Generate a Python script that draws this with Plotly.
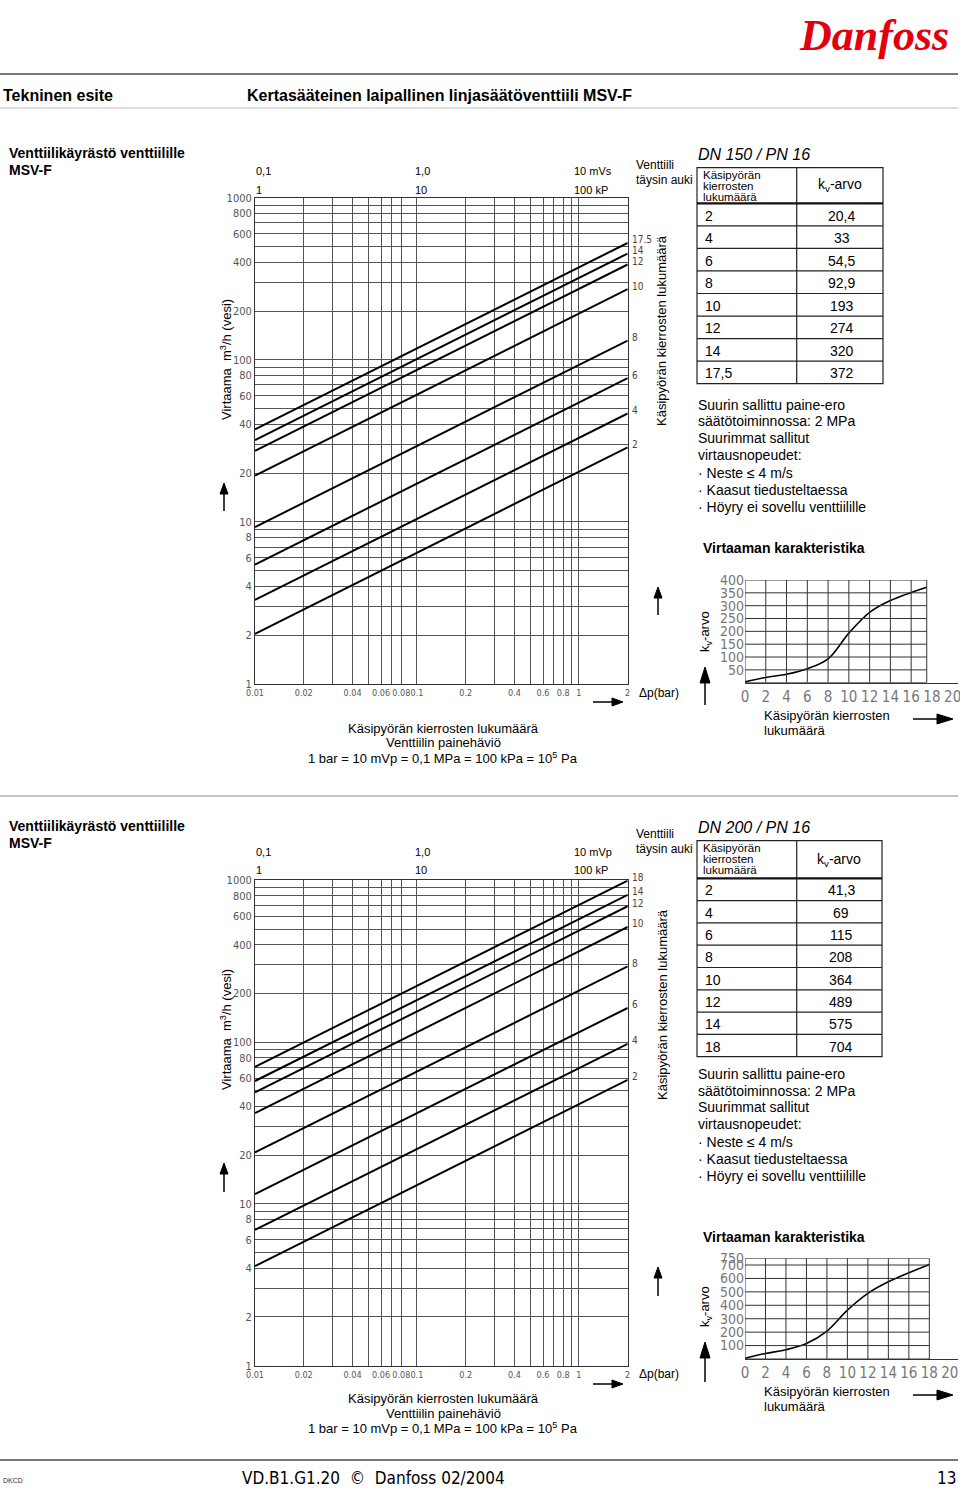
import numpy as np
import plotly.graph_objects as go

W, H = 960, 1488

# ---------------- data ----------------
dn150_settings = [2, 4, 6, 8, 10, 12, 14, 17.5]
dn150_setting_text = ["2", "4", "6", "8", "10", "12", "14", "17,5"]
dn150_chart_text = ["2", "4", "6", "8", "10", "12", "14", "17.5"]
dn150_kv = [20.4, 33, 54.5, 92.9, 193, 274, 320, 372]
dn150_kv_text = ["20,4", "33", "54,5", "92,9", "193", "274", "320", "372"]
dn150_kv_at_zero = 3  # at 0 turns

dn200_settings = [2, 4, 6, 8, 10, 12, 14, 18]
dn200_setting_text = ["2", "4", "6", "8", "10", "12", "14", "18"]
dn200_chart_text = ["2", "4", "6", "8", "10", "12", "14", "18"]
dn200_kv = [41.3, 69, 115, 208, 364, 489, 575, 704]
dn200_kv_text = ["41,3", "69", "115", "208", "364", "489", "575", "704"]
dn200_kv_at_zero = 5

dp_range = [0.01, 2]
dp_grid = [0.01, 0.02, 0.03, 0.04, 0.05, 0.06, 0.07, 0.08, 0.1, 0.2, 0.3, 0.4,
           0.5, 0.6, 0.7, 0.8, 0.9, 1, 2]
dp_labels = {0.01: "0.01", 0.02: "0.02", 0.04: "0.04", 0.06: "0.06", 0.08: "0.08",
             0.1: "0.1", 0.2: "0.2", 0.4: "0.4", 0.6: "0.6", 0.8: "0.8", 1: "1", 2: "2"}
q_grid = [m * d for d in (1, 10, 100) for m in range(1, 10)] + [1000]
q_labels = {1: "1", 2: "2", 4: "4", 6: "6", 8: "8", 10: "10", 20: "20", 40: "40",
            60: "60", 80: "80", 100: "100", 200: "200", 400: "400", 600: "600",
            800: "800", 1000: "1000"}

small1_xticks = list(range(0, 21, 2))
small1_yticks = [50, 100, 150, 200, 250, 300, 350, 400]
small1_ymax = 400
small2_xticks = list(range(0, 21, 2))
small2_yticks = [100, 200, 300, 400, 500, 600, 700, 750]
small2_ymax = 750

notes = ["Suurin sallittu paine-ero", "säätötoiminnossa: 2 MPa", "Suurimmat sallitut",
         "virtausnopeudet:", "· Neste ≤ 4 m/s", "· Kaasut tiedusteltaessa",
         "· Höyry ei sovellu venttiilille"]

# ---------------- helpers ----------------
BODY = "Liberation Sans, Arial, sans-serif"
NARROW = "DejaVu Sans Condensed, Liberation Sans Narrow, Liberation Sans, sans-serif"


def px(x):
    return x / W


def py(y):
    return 1 - y / H


def xdom(a, b):
    return [a / W, b / W]


def ydom(top, bottom):
    return [1 - bottom / H, 1 - top / H]


annotations = []
shapes = []


def ann(x, y, text, size=13, anchor="left", color="black", family=BODY, angle=0, **kw):
    annotations.append(dict(x=px(x), y=py(y), xref="paper", yref="paper", text=text,
                            showarrow=False, xanchor=anchor, yanchor="middle",
                            textangle=angle, borderpad=0,
                            font=dict(size=size, color=color, family=family), **kw))


def hline(y, x0, x1, color="#777", width=1):
    shapes.append(dict(type="line", xref="paper", yref="paper", x0=px(x0), x1=px(x1),
                       y0=py(y), y1=py(y), line=dict(color=color, width=width)))


def vline(x, y0, y1, color="black", width=1):
    shapes.append(dict(type="line", xref="paper", yref="paper", x0=px(x), x1=px(x),
                       y0=py(y0), y1=py(y1), line=dict(color=color, width=width)))


def up_arrow(x, top, bottom, hh=10, hw=4, width=1.5):
    vline(x, top + hh - 1, bottom, width=width)
    path = "M %f %f L %f %f L %f %f Z" % (px(x - hw), py(top + hh), px(x), py(top),
                                         px(x + hw), py(top + hh))
    shapes.append(dict(type="path", xref="paper", yref="paper", path=path,
                       fillcolor="black", line=dict(color="black", width=1)))


def right_arrow(y, left, right, hl=10, hw=4, width=1.5):
    hline(y, left, right - hl + 1, color="black", width=width)
    path = "M %f %f L %f %f L %f %f Z" % (px(right - hl), py(y - hw), px(right), py(y),
                                         px(right - hl), py(y + hw))
    shapes.append(dict(type="path", xref="paper", yref="paper", path=path,
                       fillcolor="black", line=dict(color="black", width=1)))


fig = go.Figure()

# ---------------- main log-log charts ----------------
datasets = {1: (dn150_kv, dn150_chart_text), 2: (dn200_kv, dn200_chart_text)}
ax_ids = {1: ("x", "y"), 2: ("x2", "y2")}

for k in (1, 2):
    kvs, lbls = datasets[k]
    xa, ya = ax_ids[k]
    for kv in kvs:
        fig.add_trace(go.Scatter(x=dp_range, y=[kv * np.sqrt(d) for d in dp_range],
                                 mode="lines", line=dict(color="black", width=2),
                                 xaxis=xa, yaxis=ya, showlegend=False, hoverinfo="skip"))
    for kv, t in zip(kvs, lbls):
        annotations.append(dict(x=np.log10(dp_range[1]), y=np.log10(kv * np.sqrt(dp_range[1])),
                                xref=xa, yref=ya, text=t, showarrow=False, xanchor="left",
                                yanchor="middle", xshift=3, yshift=3, borderpad=0,
                                font=dict(size=10, color="#444", family=NARROW)))

axis_common_x = dict(type="log", range=[np.log10(0.01), np.log10(2)], tickmode="array",
                     tickvals=dp_grid, ticktext=[dp_labels.get(v, "") for v in dp_grid],
                     showgrid=True, gridcolor="#555", gridwidth=1, showline=True,
                     linecolor="#333", linewidth=1, mirror=True, ticks="", zeroline=False,
                     tickangle=0, automargin=False,
                     tickfont=dict(size=9, color="#555", family=NARROW), fixedrange=True)
axis_common_y = dict(type="log", range=[0, 3], tickmode="array", tickvals=q_grid,
                     ticktext=[q_labels.get(v, "") for v in q_grid],
                     showgrid=True, gridcolor="#555", gridwidth=1, showline=True,
                     linecolor="#333", linewidth=1, mirror=True, ticks="", zeroline=False,
                     automargin=False,
                     tickfont=dict(size=11, color="#555", family=NARROW), fixedrange=True)

layout_axes = {}
layout_axes["xaxis"] = dict(axis_common_x, domain=xdom(255, 627.7), anchor="y")
layout_axes["yaxis"] = dict(axis_common_y, domain=ydom(197.7, 684.0), anchor="x")
layout_axes["xaxis2"] = dict(axis_common_x, domain=xdom(255, 627.7), anchor="y2")
layout_axes["yaxis2"] = dict(axis_common_y, domain=ydom(880.3, 1365.7), anchor="x2")

# ---------------- small characteristic charts ----------------
small = {
    3: (dn150_settings, dn150_kv, dn150_kv_at_zero, small1_xticks, small1_yticks,
        small1_ymax, 580.0, 682.7, 20.51),
    4: (dn200_settings, dn200_kv, dn200_kv_at_zero, small2_xticks, small2_yticks,
        small2_ymax, 1258.3, 1359.0, 20.8),
}
for k, (sets, kvs, kv0, xt, yt, ymax, top, bot, xmax_rng) in small.items():
    xa, ya = "x%d" % k, "y%d" % k
    xmax = sets[-1]
    for v in xt:
        if 0 < v < xmax:
            shapes.append(dict(type="line", xref=xa, yref=ya, x0=v, x1=v, y0=0, y1=ymax,
                               line=dict(color="#333", width=1)))
    for v in yt:
        if v < ymax:
            shapes.append(dict(type="line", xref=xa, yref=ya, x0=0, x1=xmax, y0=v, y1=v,
                               line=dict(color="#333", width=1)))
    shapes.append(dict(type="rect", xref=xa, yref=ya, x0=0, x1=xmax, y0=0, y1=ymax,
                       line=dict(color="#333", width=1)))
    fig.add_trace(go.Scatter(x=[0] + sets, y=[kv0] + kvs, mode="lines",
                             line=dict(color="black", width=1.6, shape="spline", smoothing=1.0),
                             xaxis=xa, yaxis=ya, showlegend=False, hoverinfo="skip"))
    layout_axes["xaxis%d" % k] = dict(domain=xdom(745, 958), range=[0, xmax_rng], anchor=ya,
                                      tickmode="array", tickvals=xt,
                                      ticktext=[str(v) for v in xt], showgrid=False,
                                      zeroline=False, showline=True, linecolor="#333",
                                      linewidth=1, ticks="", tickangle=0, automargin=False,
                                      ticklabeloverflow="allow",
                                      tickfont=dict(size=15, color="#777", family=NARROW),
                                      fixedrange=True)
    layout_axes["yaxis%d" % k] = dict(domain=ydom(top, bot), range=[0, ymax], anchor=xa,
                                      tickmode="array", tickvals=yt,
                                      ticktext=[str(v) for v in yt], showgrid=False,
                                      zeroline=False, showline=False, ticks="",
                                      automargin=False, ticklabelstandoff=0,
                                      tickfont=dict(size=14, color="#777", family=NARROW),
                                      fixedrange=True)

# ---------------- tables ----------------


def draw_table(title_y, top, hdr_bot, row_h, x0, xm, x1, set_txt, kv_txt, title):
    ann(x0, title_y, "<i>%s</i>" % title, size=16)
    n = len(set_txt)
    bottom = hdr_bot + n * row_h
    shapes.append(dict(type="rect", xref="paper", yref="paper", x0=px(x0), x1=px(x1),
                       y0=py(bottom), y1=py(top), line=dict(color="#222", width=1.2)))
    vline(xm, top, bottom, color="#222", width=1.2)
    hline(hdr_bot, x0, x1, color="#111", width=2.2)
    for i in range(1, n):
        hline(hdr_bot + i * row_h, x0, x1, color="#222", width=1.2)
    hy = [top + 7.5, top + 18.5, top + 29.5]
    for yy, t in zip(hy, ["Käsipyörän", "kierrosten", "lukumäärä"]):
        ann(x0 + 5, yy, t, size=11.5)
    ann((xm + x1) / 2, (top + hdr_bot) / 2, "k<sub>v</sub>-arvo", size=14, anchor="center")
    for i, (s, v) in enumerate(zip(set_txt, kv_txt)):
        yc = hdr_bot + (i + 0.5) * row_h + 1
        ann(x0 + 7, yc, s, size=14)
        ann((xm + x1) / 2 + 2, yc, v, size=14, anchor="center")


draw_table(155, 167.7, 203.3, 22.55, 697, 796.7, 883, dn150_setting_text, dn150_kv_text,
           "DN 150 / PN 16")
draw_table(828, 840.7, 878.3, 22.3, 697, 796.7, 882, dn200_setting_text, dn200_kv_text,
           "DN 200 / PN 16")

for base in (405, 1074):
    offs = [0, 16.5, 33, 50, 68, 85, 102]
    for o, t in zip(offs, notes):
        ann(697, base + o, t, size=14)

# ---------------- page furniture ----------------
ann(874, 36, "<b><i>Danfoss</i></b>", size=44, anchor="center", color="#E2000F",
    family="Liberation Serif, serif")
hline(74, 0, 958, color="#777", width=2)
ann(2, 95, "<b>Tekninen esite</b>", size=16)
ann(246, 95, "<b>Kertasääteinen laipallinen linjasäätöventtiili MSV-F</b>", size=16)
hline(108, 0, 958, color="#bbb", width=1)
hline(796, 0, 958, color="#888", width=1)
hline(1460, 0, 958, color="#777", width=2)
ann(2, 1480, "DKCD", size=7, color="#333")
ann(241, 1478, "VD.B1.G1.20  ©  Danfoss 02/2004", size=17, family=NARROW)
ann(957, 1478, "13", size=17, anchor="right", family=NARROW)

sections = {
    1: dict(title_y=153, top_row1=171, top_row2=190, unit="10 mVs", venttiili=165,
            rot=331, vir=360, arr_l=(483, 511), arr_r=(587, 615), dp_y=693, rarr=702,
            bot_txt=728, kar=548, kv_lbl=632, up_s=(667, 705), rs=719, ks=715),
    2: dict(title_y=826, top_row1=852, top_row2=870, unit="10 mVp", venttiili=834,
            rot=1005, vir=1030, arr_l=(1163, 1192), arr_r=(1267, 1296), dp_y=1374,
            rarr=1384, bot_txt=1398, kar=1237, kv_lbl=1307, up_s=(1342, 1382), rs=1395,
            ks=1391),
}
for k, s in sections.items():
    ann(8, s["title_y"], "<b>Venttiilikäyrästö venttiilille</b>", size=14)
    ann(8, s["title_y"] + 17, "<b>MSV-F</b>", size=14)
    ann(255, s["top_row1"], "0,1", size=11)
    ann(414, s["top_row1"], "1,0", size=11)
    ann(573, s["top_row1"], s["unit"], size=11)
    ann(255, s["top_row2"], "1", size=11)
    ann(414, s["top_row2"], "10", size=11)
    ann(573, s["top_row2"], "100 kP", size=11)
    ann(635, s["venttiili"], "Venttiili", size=12)
    ann(635, s["venttiili"] + 15, "täysin auki", size=12)
    ann(662, s["rot"], "Käsipyörän kierrosten lukumäärä", size=13, anchor="center", angle=-90)
    ann(226, s["vir"], "Virtaama  m<sup>3</sup>/h (vesi)", size=13, anchor="center", angle=-90)
    up_arrow(224, s["arr_l"][0], s["arr_l"][1], hh=11, hw=4)
    up_arrow(658, s["arr_r"][0], s["arr_r"][1], hh=11, hw=4)
    right_arrow(s["rarr"], 593, 623, hl=11, hw=4)
    ann(638, s["dp_y"], "Δp(bar)", size=12)
    ann(443, s["bot_txt"], "Käsipyörän kierrosten lukumäärä", size=13, anchor="center")
    ann(443, s["bot_txt"] + 15, "Venttiilin painehäviö", size=13, anchor="center")
    ann(443, s["bot_txt"] + 30, "1 bar = 10 mVp = 0,1 MPa = 100 kPa = 10<sup>5</sup> Pa",
        size=13, anchor="center")
    ann(702, s["kar"], "<b>Virtaaman karakteristika</b>", size=14)
    ann(705, s["kv_lbl"], "k<sub>v</sub>-arvo", size=13, anchor="center", angle=-90)
    up_arrow(705, s["up_s"][0], s["up_s"][1], hh=16, hw=5, width=1.5)
    right_arrow(s["rs"], 913, 953, hl=16, hw=5)
    ann(763, s["ks"], "Käsipyörän kierrosten", size=13)
    ann(763, s["ks"] + 15, "lukumäärä", size=13)

fig.update_layout(width=W, height=H, margin=dict(l=0, r=0, t=0, b=0, autoexpand=False),
                  paper_bgcolor="white", plot_bgcolor="white", showlegend=False,
                  annotations=annotations, shapes=shapes, **layout_axes)

fig.write_html("out.html", config={"displayModeBar": False, "staticPlot": True},
               post_script="document.body.style.margin='0px';document.body.style.overflow='hidden';")
